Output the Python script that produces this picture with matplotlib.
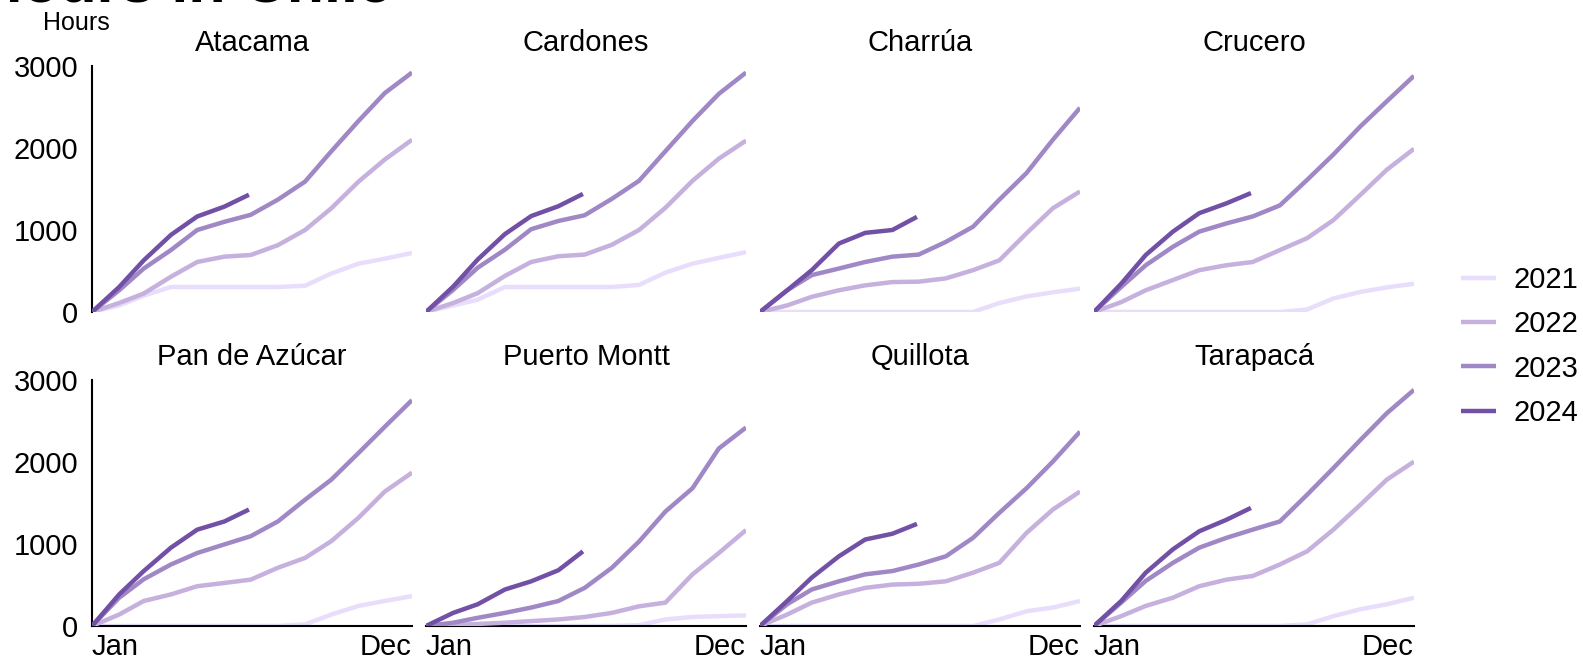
import matplotlib
matplotlib.use("Agg")
import matplotlib.pyplot as plt
from matplotlib.lines import Line2D

plt.rcParams['font.family'] = ['Liberation Sans', 'DejaVu Sans']

# ---------------- data (cumulative hours, read at month starts) ----------------
days = [0, 31, 59, 90, 120, 151, 181, 212, 243, 273, 304, 334, 365]
days_2024 = [0, 31, 59, 90, 120, 151, 179]
years = ['2021', '2022', '2023', '2024']
regions = ['Atacama', 'Cardones', 'Charrúa', 'Crucero',
           'Pan de Azúcar', 'Puerto Montt', 'Quillota', 'Tarapacá']
month_labels = ['Jan', 'Dec']
y_ticks = [0, 1000, 2000, 3000]

atacama_2021 = [0, 80, 200, 305, 305, 305, 305, 305, 320, 470, 590, 650, 720]
atacama_2022 = [0, 110, 225, 430, 610, 675, 695, 815, 1000, 1265, 1590, 1860, 2100]
atacama_2023 = [0, 265, 530, 755, 1000, 1100, 1185, 1370, 1590, 1960, 2330, 2670, 2920]
atacama_2024 = [0, 305, 630, 940, 1165, 1285, 1430]

cardones_2021 = [0, 80, 150, 305, 305, 305, 305, 305, 330, 480, 590, 660, 730]
cardones_2022 = [0, 110, 230, 440, 610, 680, 700, 820, 1000, 1270, 1600, 1870, 2090]
cardones_2023 = [0, 270, 540, 760, 1010, 1110, 1180, 1380, 1600, 1960, 2330, 2660, 2920]
cardones_2024 = [0, 310, 640, 950, 1170, 1290, 1440]

charrua_2021 = [0, 0, 0, 0, 0, 0, 0, 0, 0, 110, 190, 240, 285]
charrua_2022 = [0, 80, 185, 265, 325, 365, 370, 410, 510, 630, 960, 1265, 1470]
charrua_2023 = [0, 265, 450, 530, 610, 675, 700, 855, 1040, 1370, 1695, 2100, 2490]
charrua_2024 = [0, 265, 510, 835, 965, 1000, 1160]

crucero_2021 = [0, 0, 0, 0, 0, 0, 0, 0, 30, 165, 245, 300, 345]
crucero_2022 = [0, 120, 265, 390, 510, 570, 610, 755, 900, 1120, 1430, 1735, 1990]
crucero_2023 = [0, 305, 570, 795, 980, 1080, 1165, 1300, 1610, 1920, 2265, 2570, 2880]
crucero_2024 = [0, 345, 695, 980, 1205, 1325, 1450]

pan_2021 = [0, 0, 0, 0, 0, 0, 0, 0, 20, 140, 245, 305, 365]
pan_2022 = [0, 140, 305, 385, 485, 525, 565, 710, 830, 1035, 1320, 1640, 1870]
pan_2023 = [0, 345, 570, 750, 890, 995, 1095, 1275, 1540, 1785, 2110, 2430, 2755]
pan_2024 = [0, 385, 670, 955, 1175, 1275, 1420]

montt_2021 = [0, 0, 0, 0, 0, 0, 0, 0, 10, 80, 110, 120, 130]
montt_2022 = [0, 10, 25, 40, 60, 80, 110, 160, 240, 285, 630, 890, 1170]
montt_2023 = [0, 40, 100, 160, 225, 305, 465, 710, 1030, 1395, 1680, 2165, 2420]
montt_2024 = [0, 160, 265, 445, 545, 680, 910]

quillota_2021 = [0, 0, 0, 0, 0, 0, 0, 0, 0, 80, 180, 225, 305]
quillota_2022 = [0, 140, 285, 385, 465, 505, 515, 545, 650, 770, 1135, 1420, 1640]
quillota_2023 = [0, 265, 445, 545, 630, 670, 750, 850, 1075, 1380, 1680, 2005, 2370]
quillota_2024 = [0, 305, 590, 850, 1055, 1125, 1245]

tarapaca_2021 = [0, 0, 0, 0, 0, 0, 0, 0, 20, 120, 205, 265, 345]
tarapaca_2022 = [0, 120, 245, 345, 485, 565, 610, 750, 910, 1175, 1480, 1785, 2005]
tarapaca_2023 = [0, 285, 550, 770, 955, 1075, 1175, 1275, 1600, 1925, 2270, 2595, 2880]
tarapaca_2024 = [0, 305, 650, 935, 1155, 1295, 1440]

series = {
    'Atacama': [atacama_2021, atacama_2022, atacama_2023, atacama_2024],
    'Cardones': [cardones_2021, cardones_2022, cardones_2023, cardones_2024],
    'Charrúa': [charrua_2021, charrua_2022, charrua_2023, charrua_2024],
    'Crucero': [crucero_2021, crucero_2022, crucero_2023, crucero_2024],
    'Pan de Azúcar': [pan_2021, pan_2022, pan_2023, pan_2024],
    'Puerto Montt': [montt_2021, montt_2022, montt_2023, montt_2024],
    'Quillota': [quillota_2021, quillota_2022, quillota_2023, quillota_2024],
    'Tarapacá': [tarapaca_2021, tarapaca_2022, tarapaca_2023, tarapaca_2024],
}

colors = ['#E8DEFB', '#C5B0DE', '#A088C6', '#7150A6']

# ---------------- layout ----------------
W, H = 1583, 663
fig = plt.figure(figsize=(W / 100, H / 100), dpi=100)

col_left = [92, 426, 760, 1094]
row_top = [66, 380]
ax_w, ax_h = 320, 246
FS = 21

for i, name in enumerate(regions):
    r, c = divmod(i, 4)
    left = col_left[c] / W
    bottom = 1 - (row_top[r] + ax_h) / H
    ax = fig.add_axes([left, bottom, ax_w / W, ax_h / H])
    vals = series[name]
    for yi, (yr, col) in enumerate(zip(years, colors)):
        xs = days_2024 if yr == '2024' else days
        ax.plot(xs, vals[yi], color=col, lw=3.2, solid_capstyle='butt',
                solid_joinstyle='round', zorder=2 + yi)
    ax.set_xlim(0, 365)
    ax.set_ylim(0, 3000)
    ax.set_title(name, fontsize=FS, pad=11)
    for s in ['top', 'right']:
        ax.spines[s].set_visible(False)
    ax.spines['left'].set_linewidth(1.5)
    ax.spines['bottom'].set_linewidth(1.5)
    ax.tick_params(length=0, labelsize=FS)
    if c == 0:
        ax.set_yticks(y_ticks)
        ax.tick_params(axis='y', pad=10)
    else:
        ax.spines['left'].set_visible(False)
        ax.set_yticks([])
    if r == 1:
        ax.set_xticks([0, 365])
        ax.set_xticklabels(month_labels)
        labs = ax.get_xticklabels()
        labs[0].set_ha('left')
        labs[1].set_ha('right')
        ax.tick_params(axis='x', pad=5)
    else:
        ax.spines['bottom'].set_visible(False)
        ax.set_xticks([])

fig.text(76 / W, 1 - 30 / H, 'Hours', ha='center', va='baseline', fontsize=18)
fig.text(392 / W, 1 - 2 / H, 'Zero-price hours in Chile', ha='right',
         va='baseline', fontsize=44, fontweight='bold')

handles = [Line2D([], [], color=c, lw=3.2, solid_capstyle='butt') for c in colors]
fig.legend(handles, years, loc='upper left',
           bbox_to_anchor=(1461 / W, 1 - 266 / H), frameon=False,
           fontsize=FS, handlelength=1.2, handletextpad=0.6,
           labelspacing=0.56, borderpad=0, borderaxespad=0)

fig.savefig('out.png', dpi=100)
